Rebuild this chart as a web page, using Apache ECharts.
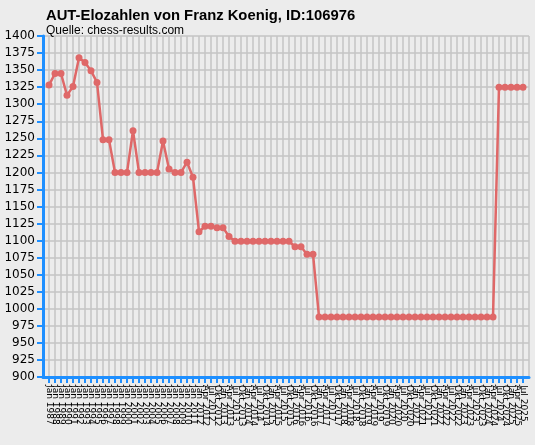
<!DOCTYPE html>
<html>
<head>
<meta charset="utf-8">
<script src="https://cdn.jsdelivr.net/npm/echarts@6/dist/echarts.min.js"></script>
<style>
html,body{margin:0;padding:0;background:#ececec;}
#chart{width:535px;height:445px;}
</style>
</head>
<body>
<div id="chart"></div>
<script>
const categories = [
  "Jan 1987","Jan 1988","Jan 1989","Jan 1990","Jan 1991","Jan 1992","Jan 1993","Jan 1994","Jan 1995","Jan 1996",
  "Jan 1997","Jan 1998","Jan 1999","Jan 2000","Jan 2001","Jan 2002","Jan 2003","Jan 2004","Jan 2005","Jan 2006",
  "Jan 2007","Jan 2008","Jan 2009","Jan 2010","Jan 2011",
  "Jan 2012","Apr 2012","Jul 2012","Okt 2012","Jan 2013","Apr 2013","Jul 2013","Okt 2013",
  "Jan 2014","Apr 2014","Jul 2014","Okt 2014","Jan 2015","Apr 2015","Jul 2015","Okt 2015",
  "Jan 2016","Apr 2016","Jul 2016","Okt 2016","Jan 2017","Apr 2017","Jul 2017","Okt 2017",
  "Jan 2018","Apr 2018","Jul 2018","Okt 2018","Jan 2019","Apr 2019","Jul 2019","Okt 2019",
  "Jan 2020","Apr 2020","Jul 2020","Okt 2020","Jan 2021","Apr 2021","Jul 2021","Okt 2021",
  "Jan 2022","Apr 2022","Jul 2022","Okt 2022","Jan 2023","Apr 2023","Jul 2023","Okt 2023",
  "Jan 2024","Apr 2024","Jul 2024","Okt 2024","Jan 2025","Apr 2025","Jul 2025"
];
const elo = [
  1328,1345,1345,1313,1326,1368,1361,1349,1332,1248,
  1248,1200,1200,1200,1261,1200,1200,1200,1200,1246,
  1205,1200,1200,1215,1193,
  1113,1121,1121,1119,1119,1106,1099,1099,
  1099,1099,1099,1099,1099,1099,1099,1099,
  1091,1091,1080,1080,988,988,988,988,
  988,988,988,988,988,988,988,988,
  988,988,988,988,988,988,988,988,
  988,988,988,988,988,988,988,988,
  988,988,1325,1325,1325,1325,1325
];
const yMin = 900, yMax = 1400, yStep = 25;
const titleText = "AUT-Elozahlen von Franz Koenig, ID:106976";
const subText = "Quelle: chess-results.com";

const axisCats = [""].concat(categories, [""]);
const seriesData = [null].concat(elo, [null]);
const blue = "#1e8fff";

const chart = echarts.init(document.getElementById('chart'));
chart.setOption({
  backgroundColor: '#ececec',
  animation: false,
  title: [
    {text: titleText, left: 41, top: 3,
     textStyle: {fontFamily: 'Liberation Sans', fontWeight: 'bold', fontSize: 14.8, color: '#000'}},
    {text: subText, left: 41, top: 20,
     textStyle: {fontFamily: 'Liberation Sans', fontWeight: 'normal', fontSize: 12, color: '#000'}}
  ],
  grid: {left: 43, right: 6, top: 36, bottom: 68, containLabel: false},
  xAxis: {
    type: 'category',
    data: axisCats,
    boundaryGap: false,
    axisLine: {show: true, lineStyle: {color: blue, width: 3}},
    axisTick: {show: true, length: 6, interval: function(i){ return i > 0 && i <= categories.length; },
               lineStyle: {color: blue, width: 2}},
    axisLabel: {rotate: -90, interval: 0, fontSize: 9, color: '#000', margin: 8,
                fontFamily: 'DejaVu Sans'},
    splitLine: {show: true, interval: 0, lineStyle: {color: '#c4c4c4', width: 1.5}}
  },
  yAxis: {
    type: 'value',
    min: yMin, max: yMax, interval: yStep,
    axisLine: {show: true, lineStyle: {color: blue, width: 3}},
    axisTick: {show: true, length: 6, lineStyle: {color: blue, width: 2}},
    axisLabel: {fontSize: 12, color: '#000', margin: 8, fontFamily: 'DejaVu Sans',
                formatter: function(v){ return String(v); }},
    splitLine: {show: true, lineStyle: {color: '#c4c4c4', width: 1.5}}
  },
  series: [{
    type: 'line',
    data: seriesData,
    symbol: 'circle',
    symbolSize: 7,
    showAllSymbol: true,
    connectNulls: false,
    lineStyle: {color: '#df6868', width: 2.5},
    itemStyle: {color: '#df6868'}
  }]
});
</script>
</body>
</html>
